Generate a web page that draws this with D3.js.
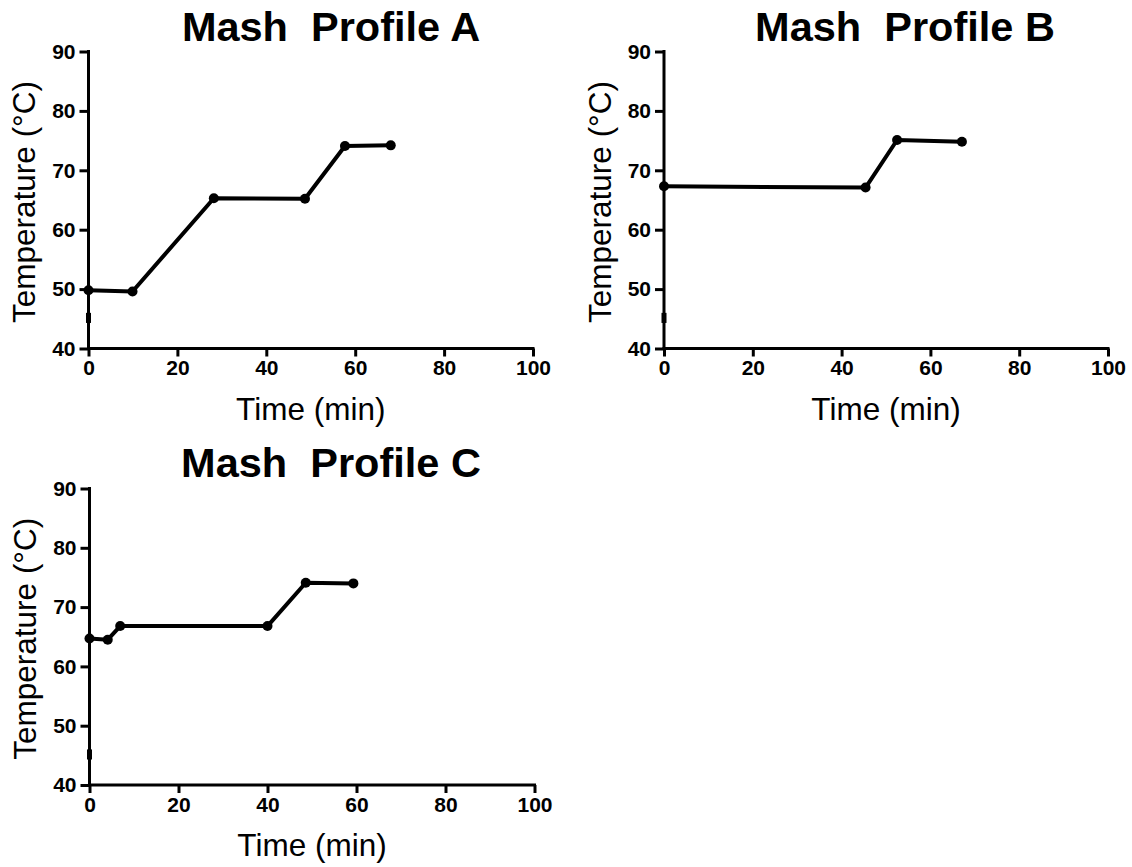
<!DOCTYPE html>
<html>
<head>
<meta charset="utf-8">
<script src="https://cdn.jsdelivr.net/npm/d3@7"></script>
<style>
  html, body { margin: 0; padding: 0; background: #fff; }
  svg { display: block; }
  text { font-family: "Liberation Sans", Arial, sans-serif; fill: #000; }
</style>
</head>
<body>
<svg id="chart" width="1132" height="867"></svg>
<script>
// Mash temperature profiles (time in minutes, temperature in °C)
const profileNames = ["A", "B", "C"];
const timeA = [0, 9.9, 28.2, 48.7, 57.7, 68.0];
const tempA = [49.8, 49.6, 65.3, 65.2, 74.1, 74.2];
const timeB = [0, 45.4, 52.5, 67.1];
const tempB = [67.3, 67.1, 75.1, 74.8];
const timeC = [0, 4.1, 6.9, 40.0, 48.6, 59.3];
const tempC = [64.7, 64.5, 66.8, 66.8, 74.1, 74.0];

const xTicks = [0, 20, 40, 60, 80, 100];
const yTicks = [40, 50, 60, 70, 80, 90];
const xDomain = [0, 100];
const yDomain = [40, 90];
// short heavy segment drawn on the y axis
const axisMarkSpan = [44.3, 46.0];

// panel frames: pixel range of each plot area
const panels = [
  { name: profileNames[0], t: timeA, v: tempA, x0: 88.5, x1: 533, yBottom: 348.5, yTop: 51.5, titleX: 331, titleY: 41, ylabX: 35 },
  { name: profileNames[1], t: timeB, v: tempB, x0: 664, x1: 1108, yBottom: 348.5, yTop: 51.5, titleX: 905, titleY: 41, ylabX: 611 },
  { name: profileNames[2], t: timeC, v: tempC, x0: 89.5, x1: 534.5, yBottom: 785, yTop: 488.5, titleX: 331, titleY: 477, ylabX: 36 }
];

const svg = d3.select("#chart");

panels.forEach(p => {
  const x = d3.scaleLinear().domain(xDomain).range([p.x0, p.x1]);
  const y = d3.scaleLinear().domain(yDomain).range([p.yBottom, p.yTop]);
  const g = svg.append("g");

  // x axis
  const gx = g.append("g")
    .attr("transform", `translate(0,${p.yBottom})`)
    .call(d3.axisBottom(x).tickValues(xTicks).tickFormat(d3.format("d")).tickSize(8).tickSizeOuter(0).tickPadding(4));
  // y axis
  const gy = g.append("g")
    .attr("transform", `translate(${p.x0},0)`)
    .call(d3.axisLeft(y).tickValues(yTicks).tickFormat(d3.format("d")).tickSize(9).tickSizeOuter(0).tickPadding(4));

  [gx, gy].forEach(a => {
    a.select(".domain").attr("stroke", "#000").attr("stroke-width", 3);
    a.selectAll(".tick line").attr("stroke", "#000").attr("stroke-width", 3);
    a.selectAll(".tick text")
      .style("font-family", '"Liberation Sans", Arial, sans-serif')
      .style("font-weight", "bold")
      .style("font-size", "21px")
      .attr("fill", "#000");
  });
  // extend the axis lines slightly so corners meet cleanly
  gx.select(".domain").attr("d", `M${p.x0 - 1.5},0H${p.x1 + 1.5}`);
  gy.select(".domain").attr("d", `M0,${p.yBottom + 1.5}V${p.yTop - 1.5}`);

  // heavy mark on the y axis
  g.append("rect")
    .attr("x", p.x0 - 2.5)
    .attr("y", y(axisMarkSpan[1]))
    .attr("width", 5)
    .attr("height", y(axisMarkSpan[0]) - y(axisMarkSpan[1]))
    .attr("fill", "#000");

  const pts = p.t.map((t, i) => ({ t, v: p.v[i] }));

  g.append("path")
    .datum(pts)
    .attr("fill", "none")
    .attr("stroke", "#000")
    .attr("stroke-width", 4)
    .attr("stroke-linejoin", "round")
    .attr("d", d3.line().x(d => x(d.t)).y(d => y(d.v)));

  g.selectAll("circle.pt")
    .data(pts)
    .join("circle")
    .attr("class", "pt")
    .attr("cx", d => x(d.t))
    .attr("cy", d => y(d.v))
    .attr("r", 5)
    .attr("fill", "#000");

  // title
  g.append("text")
    .attr("x", p.titleX)
    .attr("y", p.titleY)
    .attr("text-anchor", "middle")
    .style("font-weight", "bold")
    .style("font-size", "41.5px")
    .attr("xml:space", "preserve")
    .text(`Mash  Profile ${p.name}`);

  // axis titles
  g.append("text")
    .attr("x", (p.x0 + p.x1) / 2)
    .attr("y", p.yBottom + 71)
    .attr("text-anchor", "middle")
    .style("font-size", "31.5px")
    .text("Time (min)");

  g.append("text")
    .attr("transform", `translate(${p.ylabX},${(p.yBottom + p.yTop) / 2 + 2}) rotate(-90)`)
    .attr("text-anchor", "middle")
    .style("font-size", "31.5px")
    .text("Temperature (°C)");
});
</script>
</body>
</html>
